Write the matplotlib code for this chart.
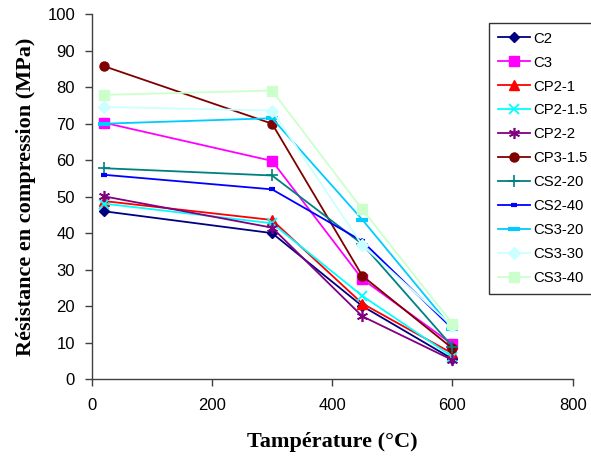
import matplotlib
matplotlib.use("Agg")
import matplotlib.pyplot as plt

# Temperatures (°C) and compressive strength (MPa) for each mix
temperatures = [20, 300, 450, 600]

series_names = ["C2", "C3", "CP2-1", "CP2-1.5", "CP2-2", "CP3-1.5",
                "CS2-20", "CS2-40", "CS3-20", "CS3-30", "CS3-40"]

c2 = [46.0, 40.0, 20.0, 5.5]
c3 = [70.3, 59.8, 27.4, 9.5]
cp2_1 = [48.8, 43.6, 20.7, 7.0]
cp2_1_5 = [48.1, 42.7, 22.8, 6.1]
cp2_2 = [50.1, 41.5, 17.2, 5.2]
cp3_1_5 = [85.8, 70.0, 28.3, 8.4]
cs2_20 = [57.8, 55.8, 37.0, 8.9]
cs2_40 = [56.0, 52.0, 37.8, 13.8]
cs3_20 = [70.0, 71.5, 43.7, 13.8]
cs3_30 = [74.6, 73.6, 36.7, 14.5]
cs3_40 = [77.9, 79.1, 46.5, 15.2]

values = [c2, c3, cp2_1, cp2_1_5, cp2_2, cp3_1_5,
          cs2_20, cs2_40, cs3_20, cs3_30, cs3_40]

x_ticks = [0, 200, 400, 600, 800]
y_ticks = [0, 10, 20, 30, 40, 50, 60, 70, 80, 90, 100]

styles = [
    dict(color="#000080", marker="D", ms=5.5),
    dict(color="#FF00FF", marker="s", ms=6.5),
    dict(color="#FF0000", marker="^", ms=7),
    dict(color="#00FFFF", marker="x", ms=6.5, mew=1.3),
    dict(color="#800080", marker=(6, 2, 0), ms=8, mew=1.2),
    dict(color="#800000", marker="o", ms=6.5),
    dict(color="#008080", marker="+", ms=8, mew=1.2),
    dict(color="#0000FF", marker="_", ms=5, mew=3),
    dict(color="#00CCFF", marker="_", ms=8, mew=3),
    dict(color="#CCFFFF", marker="D", ms=6),
    dict(color="#CCFFCC", marker="s", ms=6.5),
]

plt.rcParams["font.family"] = ["Liberation Sans", "DejaVu Sans"]

fig = plt.figure(figsize=(5.91, 4.57), dpi=100)
ax = fig.add_axes([91.7 / 591, 1 - 379 / 457, (572.7 - 91.7) / 591, (379 - 14.3) / 457])

for name, vals, st in zip(series_names, values, styles):
    ax.plot(temperatures, vals, label=name, lw=1.3, clip_on=False, **st)

ax.set_xlim(0, 800)
ax.set_ylim(0, 100)
ax.set_xticks(x_ticks)
ax.set_yticks(y_ticks)
ax.tick_params(labelsize=12, direction="out", length=5, width=1, color="#404040")
ax.tick_params(axis="x", pad=9)
ax.tick_params(axis="y", pad=7)

for side in ("top", "right"):
    ax.spines[side].set_visible(False)
for side in ("left", "bottom"):
    ax.spines[side].set_color("#404040")
    ax.spines[side].set_linewidth(1)

label_font = dict(family=["Liberation Serif", "DejaVu Serif"], weight="bold", size=16)
ax.set_xlabel("Tampérature (°C)", labelpad=13, **label_font)
ax.set_ylabel("Résistance en compression (MPa)", labelpad=8, **label_font)

leg = ax.legend(loc="upper left", bbox_to_anchor=(489.3 / 591, 1 - 22.7 / 457),
                bbox_transform=fig.transFigure, borderaxespad=0, fontsize=10.7,
                handlelength=2.15, handletextpad=0.22, labelspacing=0.67,
                borderpad=0.6, fancybox=False, frameon=True)
leg.get_frame().set_edgecolor("black")
leg.get_frame().set_linewidth(1)

fig.savefig("out.png", dpi=100)
